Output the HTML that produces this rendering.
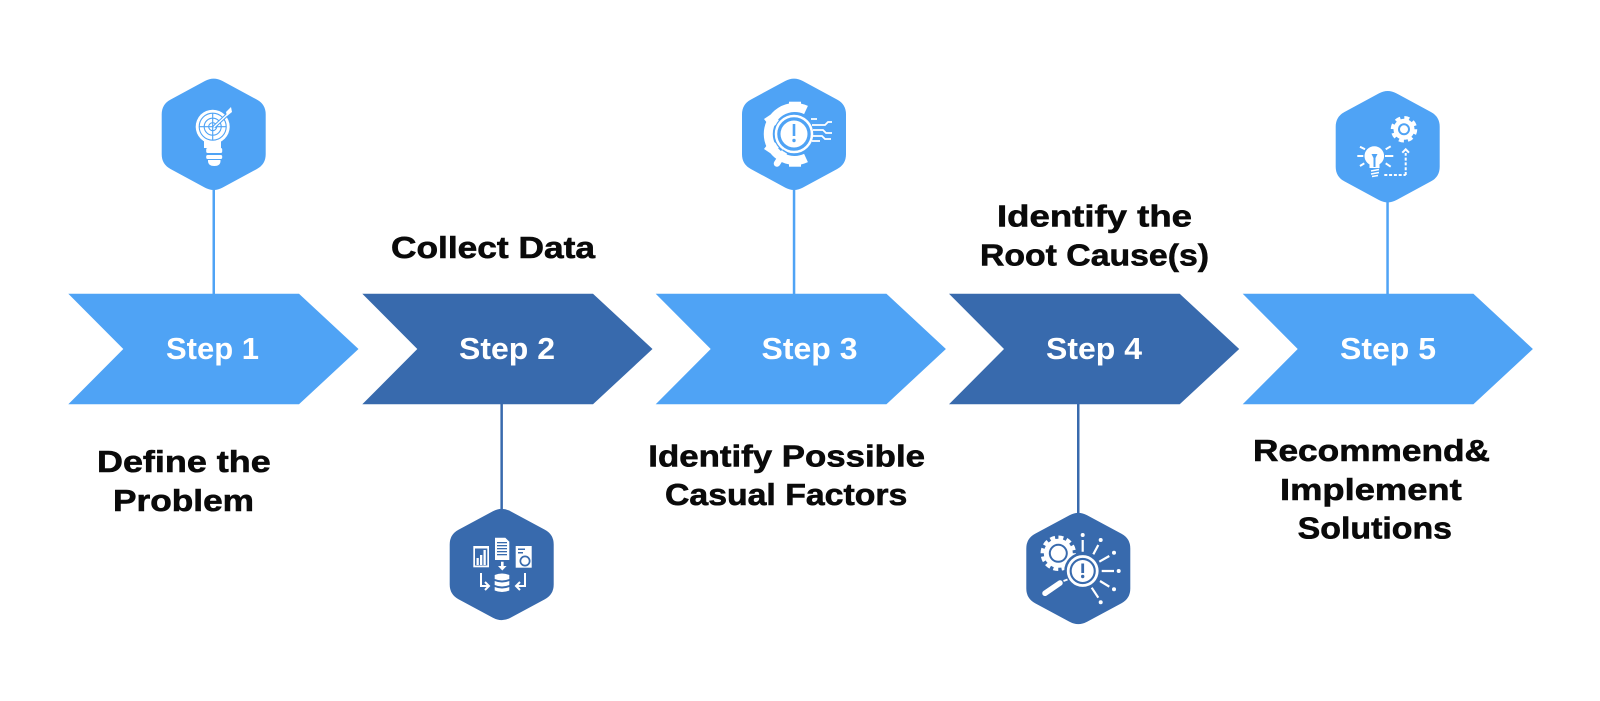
<!DOCTYPE html>
<html><head><meta charset="utf-8"><style>
html,body{margin:0;padding:0;background:#fff}
svg{display:block}
.l{font-family:"Liberation Sans",sans-serif;font-weight:700;font-size:31px;fill:#0a0a0a;stroke:#0a0a0a;stroke-width:.6}
.s{font-family:"Liberation Sans",sans-serif;font-weight:700;font-size:31px;fill:#fff}
</style></head><body>
<svg width="1600" height="701" viewBox="0 0 1600 701" xmlns="http://www.w3.org/2000/svg">
<defs>
<path id="hex" d="M-8.800-53.300Q0-58 8.800-53.300L43.200-34.700Q52-30 52-20L52 20Q52 30 43.200 34.700L8.800 53.300Q0 58-8.800 53.300L-43.200 34.700Q-52 30-52 20L-52-20Q-52-30-43.200-34.700Z"/>
<polygon id="chev" points="0,0 230.700,0 290.200,55.300 230.700,110.600 0,110.600 55,55.300"/>
</defs>

<!-- connectors -->
<rect x="212.500" y="180" width="2.500" height="116" fill="#4fa3f5"/>
<rect x="500.400" y="402" width="2.500" height="114" fill="#386aad"/>
<rect x="792.800" y="180" width="2.500" height="116" fill="#4fa3f5"/>
<rect x="1077" y="402" width="2.500" height="118" fill="#386aad"/>
<rect x="1386.300" y="192" width="2.500" height="104" fill="#4fa3f5"/>

<!-- chevrons -->
<use href="#chev" x="68.300" y="293.700" fill="#4fa3f5"/>
<use href="#chev" x="362.300" y="293.700" fill="#386aad"/>
<use href="#chev" x="655.700" y="293.700" fill="#4fa3f5"/>
<use href="#chev" x="949" y="293.700" fill="#386aad"/>
<use href="#chev" x="1242.700" y="293.700" fill="#4fa3f5"/>

<text class="s" x="166" y="359" textLength="93" lengthAdjust="spacingAndGlyphs">Step 1</text>
<text class="s" x="459" y="359" textLength="96" lengthAdjust="spacingAndGlyphs">Step 2</text>
<text class="s" x="761.500" y="359" textLength="96" lengthAdjust="spacingAndGlyphs">Step 3</text>
<text class="s" x="1046" y="359" textLength="96" lengthAdjust="spacingAndGlyphs">Step 4</text>
<text class="s" x="1340" y="359" textLength="96" lengthAdjust="spacingAndGlyphs">Step 5</text>

<!-- hexagons -->
<use href="#hex" x="213.700" y="134.300" fill="#4fa3f5"/>
<use href="#hex" x="501.700" y="564.500" fill="#386aad"/>
<use href="#hex" x="794" y="134.300" fill="#4fa3f5"/>
<use href="#hex" x="1078.300" y="568.500" fill="#386aad"/>
<use href="#hex" x="1387.700" y="146.700" fill="#4fa3f5"/>

<!-- icon 1: target bulb -->
<g>
<circle cx="212.700" cy="126.700" r="17" fill="#fff"/>
<path d="M204 136h17v12h-17z" fill="#fff"/>
<g fill="none" stroke="#4fa3f5" stroke-width="1.100">
<circle cx="212.700" cy="126.700" r="13.500"/><circle cx="212.700" cy="126.700" r="8.500"/><circle cx="212.700" cy="126.700" r="4"/>
<path d="M199 126.700h27M212.700 113v27"/></g>
<path d="M214 127L228 114" stroke="#4fa3f5" stroke-width="3.500"/>
<path d="M214 127L229 113" stroke="#fff" stroke-width="1.500"/>
<path d="M226 112l5-5 1 5 -5 4z" fill="#fff"/>
<rect x="206.200" y="148" width="16" height="5" rx="1.500" fill="#fff"/>
<rect x="206.200" y="155" width="16" height="4" rx="1.500" fill="#fff"/>
<path d="M208 160h12.500v1q0 5-6.200 5t-6.300-5z" fill="#fff"/>
</g>

<!-- icon 2: data -->
<g fill="#fff">
<rect x="473.300" y="546" width="15.700" height="21.300"/>
<rect x="475" y="548.500" width="12.300" height="17" fill="#386aad"/>
<rect x="476.500" y="558" width="2.300" height="7"/><rect x="480" y="555" width="2.300" height="10"/><rect x="483.500" y="550" width="2.300" height="15"/>
<path d="M495 537.700h10.300l4 4v18.300h-14.300z"/>
<g fill="#386aad"><rect x="497" y="542" width="10" height="1.300"/><rect x="497" y="545" width="10" height="1.300"/><rect x="497" y="548" width="10" height="1.300"/><rect x="497" y="551" width="10" height="1.300"/><rect x="497" y="554" width="10" height="1.300"/></g>
<rect x="515.700" y="546" width="16" height="21.700"/>
<g fill="#386aad"><rect x="518" y="548.500" width="7" height="1.500"/><rect x="518" y="552" width="5" height="1.500"/></g>
<circle cx="525" cy="561" r="5.500" fill="#386aad"/><circle cx="525" cy="561" r="3.800"/>
<path d="M501 561.700h2.600v4.300h3l-4.300 4.500-4.300-4.500h3z"/>
<path d="M494.700 575q7.300-3 14.600 0v4q-7.300 3-14.600 0zM494.700 581q7.300 3 14.600 0v4q-7.300 3-14.600 0zM494.700 587q7.300 3 14.600 0v3.500q-7.300 3-14.600 0z"/>
</g>
<path d="M481 573v13h7M485 582l4 4-4 4M525 573v13h-8M520 582l-4 4 4 4" fill="none" stroke="#fff" stroke-width="2"/>

<!-- icon 3: gear with magnifier -->
<g>
<path d="M806 110A26.500 26.500 0 1 0 806 158" fill="none" stroke="#fff" stroke-width="9"/>
<g fill="#fff">
<rect x="789" y="101.700" width="12" height="9"/><rect x="789" y="157.700" width="12" height="9"/>
<path d="M764 119l9-6 7 9-9 6z"/><path d="M764 149l9 6 7-9-9-6z"/>
</g>
<circle cx="794" cy="134" r="20.500" fill="#4fa3f5"/>
<circle cx="794" cy="134" r="18" fill="none" stroke="#fff" stroke-width="2.500"/>
<circle cx="794" cy="134" r="13.500" fill="#fff"/>
<rect x="792.700" y="124" width="2.600" height="12" fill="#4fa3f5"/><circle cx="794" cy="140.500" r="1.700" fill="#4fa3f5"/>
<path d="M812 125h13l3-3h4M813 130h10l3 3h6M813 136h9l3 3h6M812 141h8M811 119h6" fill="none" stroke="#fff" stroke-width="1.800"/>
<path d="M784 152.500l-7 11" stroke="#fff" stroke-width="6.500" stroke-linecap="round"/>
<path d="M782.500 150l5 3" stroke="#4fa3f5" stroke-width="1.500"/>
</g>

<!-- icon 4: gear + magnifier + rays -->
<g>
<circle cx="1058.300" cy="553.300" r="14.500" fill="#fff"/>
<circle cx="1058.300" cy="553.300" r="16" fill="none" stroke="#fff" stroke-width="3.500" stroke-dasharray="5 3.380"/>
<circle cx="1058.300" cy="553.300" r="8.500" fill="none" stroke="#386aad" stroke-width="2"/>
<circle cx="1082.700" cy="571" r="18.500" fill="#386aad"/>
<circle cx="1082.700" cy="571" r="14.500" fill="none" stroke="#fff" stroke-width="2.800"/>
<circle cx="1082.700" cy="571" r="11" fill="#fff"/>
<rect x="1081.300" y="563.500" width="2.800" height="9.500" fill="#386aad"/><circle cx="1082.700" cy="576.500" r="1.700" fill="#386aad"/>
<path d="M1063.500 581l4-1.500" stroke="#fff" stroke-width="2"/>
<path d="M1045 593.300L1060 583" stroke="#fff" stroke-width="5.500" stroke-linecap="round"/>
<path d="M1082.700 540v11.700M1093.300 554.300l5-9.300M1099.300 561.700l10-5.700M1101.700 571h12.300M1100 581l9.300 5.700M1091.700 587.700l6.600 10" stroke="#fff" stroke-width="2.200" fill="none"/>
<g fill="#fff"><circle cx="1082.700" cy="535" r="2"/><circle cx="1100.700" cy="540" r="2"/><circle cx="1114" cy="552.700" r="2"/><circle cx="1118.700" cy="571" r="2"/><circle cx="1114" cy="589.300" r="2"/><circle cx="1100.700" cy="602.300" r="2"/></g>
</g>

<!-- icon 5: bulb gear path -->
<g>
<circle cx="1404" cy="129.300" r="10.500" fill="#fff"/>
<circle cx="1404" cy="129.300" r="11.500" fill="none" stroke="#fff" stroke-width="3.500" stroke-dasharray="5 4.030"/>
<circle cx="1404" cy="129.300" r="5" fill="none" stroke="#4fa3f5" stroke-width="2"/>
<circle cx="1374.300" cy="156" r="9.800" fill="#fff"/>
<path d="M1369.500 163h10v5h-10z" fill="#fff"/>
<path d="M1371.500 154h6l-2 4v9h-2v-9z" fill="#4fa3f5"/>
<path d="M1371 171l8-1.500M1371 174l8-1.500M1372 176.500l6-1" stroke="#fff" stroke-width="1.500"/>
<g stroke="#fff" stroke-width="2" fill="none">
<path d="M1357.300 156h6M1385 156h8.300M1360 146.700l5 2.600M1385.700 149.300l5-3M1360 166l4.300-2.700M1385.700 163.300l5 3.400"/>
<path d="M1384.300 175h21.400" stroke-dasharray="3 1.800"/>
<path d="M1405.700 175v-22" stroke-dasharray="3 1.800"/>
<path d="M1402.300 152.700l3.400-3.400 3.300 3.400"/>
</g>
</g>

<!-- labels -->
<text class="l" x="97" y="472" textLength="173.700" lengthAdjust="spacingAndGlyphs">Define the</text>
<text class="l" x="113" y="511" textLength="141" lengthAdjust="spacingAndGlyphs">Problem</text>
<text class="l" x="391" y="258" textLength="204" lengthAdjust="spacingAndGlyphs">Collect Data</text>
<text class="l" x="648.300" y="466.700" textLength="276.700" lengthAdjust="spacingAndGlyphs">Identify Possible</text>
<text class="l" x="665" y="505" textLength="242.300" lengthAdjust="spacingAndGlyphs">Casual Factors</text>
<text class="l" x="997" y="226.500" textLength="195" lengthAdjust="spacingAndGlyphs">Identify the</text>
<text class="l" x="980" y="265.500" textLength="229" lengthAdjust="spacingAndGlyphs">Root Cause(s)</text>
<text class="l" x="1253" y="461" textLength="237" lengthAdjust="spacingAndGlyphs">Recommend&amp;</text>
<text class="l" x="1280" y="500" textLength="181.700" lengthAdjust="spacingAndGlyphs">Implement</text>
<text class="l" x="1297.700" y="538.300" textLength="154.300" lengthAdjust="spacingAndGlyphs">Solutions</text>
</svg>
</body></html>
